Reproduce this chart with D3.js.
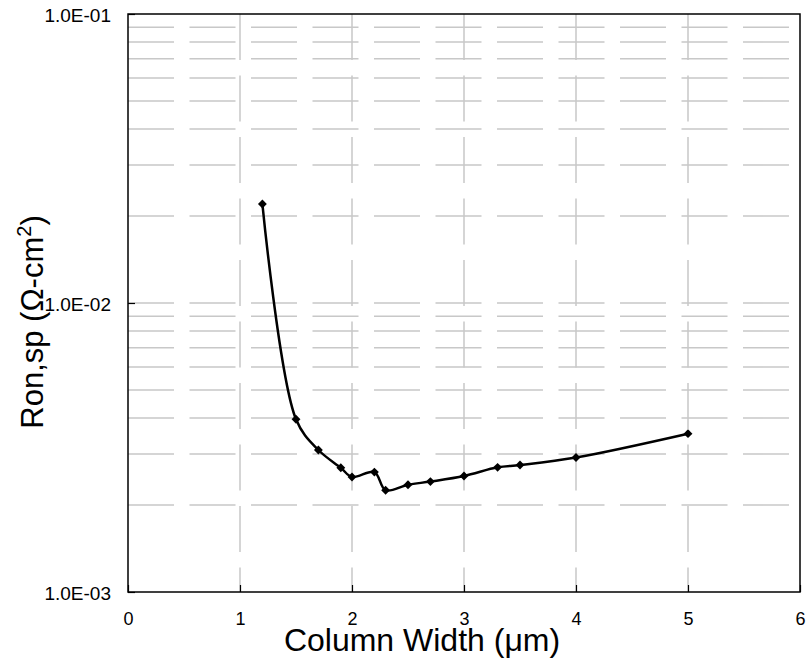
<!DOCTYPE html>
<html>
<head>
<meta charset="utf-8">
<script src="https://cdn.jsdelivr.net/npm/d3@7"></script>
<style>
  body { margin: 0; background: #fff; }
  text { font-family: Arial, "Liberation Sans", sans-serif; fill: #000; }
</style>
</head>
<body>
<svg id="chart" width="809" height="662"></svg>
<script>
// column width (um) and specific on-resistance (ohm-cm2)
const widths = [1.2, 1.5, 1.7, 1.9, 2.0, 2.2, 2.3, 2.5, 2.7, 3.0, 3.3, 3.5, 4.0, 5.0]
const ronsp = [0.0220, 0.00396, 0.00310, 0.00269, 0.00250, 0.00260, 0.00225, 0.00235, 0.00241, 0.00252, 0.00270, 0.00275, 0.00292, 0.00353]
const xTicks = [0, 1, 2, 3, 4, 5, 6]
const yTicks = [1e-3, 1e-2, 1e-1]
const yGrid = [2, 3, 4, 5, 6, 7, 8, 9].map(d => d * 1e-3)
  .concat([1e-2]).concat([2, 3, 4, 5, 6, 7, 8, 9].map(d => d * 1e-2))

const svg = d3.select('#chart'),
  pLeft = 128, pRight = 800, pTop = 14, pBottom = 592

const x = d3.scaleLinear().domain([0, 6]).range([pLeft, pRight])
const y = d3.scaleLog().domain([1e-3, 1e-1]).range([pBottom, pTop])

// dashed grid
const grid = svg.append('g')
  .attr('stroke', '#c8c8c8')
  .attr('stroke-width', 1.5)
  .attr('stroke-dasharray', '46,15.5')

grid.selectAll('line.h')
  .data(yGrid)
  .enter()
  .append('line')
  .attr('x1', pLeft).attr('x2', pRight)
  .attr('y1', d => y(d)).attr('y2', d => y(d))

grid.selectAll('line.v')
  .data(xTicks.slice(1, -1))
  .enter()
  .append('line')
  .attr('x1', d => x(d)).attr('x2', d => x(d))
  .attr('y1', pTop).attr('y2', pBottom)

// axes with inward ticks
const xAxis = svg.append('g')
  .attr('transform', `translate(0,${pBottom})`)
  .call(d3.axisTop(x).tickValues(xTicks).tickSize(7).tickFormat(d3.format('d')))
xAxis.select('.domain').remove()
xAxis.selectAll('line').attr('stroke', '#000').attr('stroke-width', 1.2)
xAxis.selectAll('text')
  .attr('y', 27)
  .attr('dy', '0.32em')
  .attr('font-size', 18)

const yAxis = svg.append('g')
  .attr('transform', `translate(${pLeft},0)`)
  .call(d3.axisRight(y).tickValues(yTicks).tickSize(7))
yAxis.select('.domain').remove()
yAxis.selectAll('line').attr('stroke', '#000').attr('stroke-width', 1.2)
yAxis.selectAll('text')
  .attr('x', -17)
  .attr('dy', '0.38em')
  .attr('text-anchor', 'end')
  .attr('font-size', 19)
  .text(d => d.toExponential(1).toUpperCase().replace(/E([+-])(\d)$/, 'E$10$2'))

// frame
svg.append('rect')
  .attr('x', pLeft).attr('y', pTop)
  .attr('width', pRight - pLeft).attr('height', pBottom - pTop)
  .attr('fill', 'none')
  .attr('stroke', '#000')
  .attr('stroke-width', 1.5)

// data line
const pts = widths.map((w, i) => [w, ronsp[i]])
const line = d3.line()
  .x(d => x(d[0]))
  .y(d => y(d[1]))
  .curve(d3.curveCatmullRom.alpha(0.5))

svg.append('path')
  .datum(pts)
  .attr('fill', 'none')
  .attr('stroke', '#000')
  .attr('stroke-width', 2.5)
  .attr('d', line)

svg.append('g')
  .selectAll('path')
  .data(pts)
  .enter()
  .append('path')
  .attr('transform', d => `translate(${x(d[0])},${y(d[1])})`)
  .attr('d', d3.symbol().type(d3.symbolDiamond2).size(50))
  .attr('fill', '#000')

// titles
svg.append('text')
  .attr('x', 422)
  .attr('y', 651)
  .attr('text-anchor', 'middle')
  .attr('font-size', 32)
  .text('Column Width (μm)')

const yt = svg.append('text')
  .attr('transform', `translate(43,322) rotate(-90)`)
  .attr('text-anchor', 'middle')
  .attr('font-size', 31)
yt.append('tspan').text('Ron,sp (Ω-cm')
yt.append('tspan').attr('dy', -12).attr('font-size', 20).text('2')
yt.append('tspan').attr('dy', 12).text(')')
</script>
</body>
</html>
